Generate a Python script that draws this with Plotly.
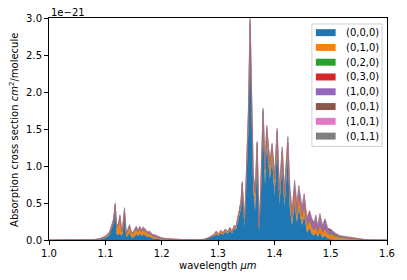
import plotly.graph_objects as go

# Wavelength grid (micrometres)
wavelength = [
    1.000, 1.060, 1.080, 1.090, 1.097, 1.103, 1.108, 1.112, 1.115, 1.1175,
    1.120, 1.123, 1.126, 1.129, 1.131, 1.134, 1.137, 1.140, 1.143, 1.146,
    1.149, 1.152, 1.155, 1.158, 1.161, 1.164, 1.167, 1.171, 1.175, 1.179,
    1.183, 1.188, 1.193, 1.200, 1.210, 1.225, 1.240, 1.260, 1.275, 1.283,
    1.288, 1.293, 1.297, 1.301, 1.305, 1.309, 1.313, 1.317, 1.321, 1.325,
    1.329, 1.332, 1.335, 1.338, 1.341, 1.343, 1.345, 1.347, 1.349, 1.351,
    1.354, 1.357, 1.3595, 1.3625, 1.366, 1.3695, 1.373, 1.376, 1.380, 1.3835,
    1.3865, 1.389, 1.392, 1.396, 1.4005, 1.405, 1.409, 1.414, 1.418, 1.424,
    1.4275, 1.4315, 1.436, 1.440, 1.4435, 1.449, 1.453, 1.458, 1.4625, 1.4667,
    1.4705, 1.4737, 1.477, 1.481, 1.4855, 1.490, 1.495, 1.500, 1.507, 1.516,
    1.525, 1.534, 1.543, 1.554, 1.563, 1.575, 1.600]

# Cross sections in units of 1e-21 cm^2/molecule
s000 = [
    0, 0, .002, .008, .02, .04, .08, .17, .24, .43,
    .08, .07, .09, .05, .1, .33, .04, .06, .1, .04,
    .03, .05, .08, .05, .09, .05, .08, .06, .04, .045,
    .025, .02, .012, .006, .004, .002, .001, .002, .005, .02,
    .035, .06, .07, .06, .09, .075, .11, .085, .13, .09,
    .16, .14, .25, .33, .44, .66, .33, .18, .5, 1.0,
    1.5, 2.62, 1.48, .7, .4, 1.12, .12, .58, 1.55, .74,
    1.32, 1.03, .82, 1.08, .6, 1.28, .48, 1.0, .45, 1.12,
    .44, .2, .5, .24, .43, .2, .33, .1, .16, .08,
    .06, .1, .04, .1, .03, .06, .02, .01, .005, .003,
    .002, .001, 0, 0, 0, 0, 0]
s010 = [
    0, 0, .001, .005, .01, .015, .02, .025, .03, .03,
    .08, .11, .2, .05, .06, .05, .035, .05, .06, .05,
    .045, .055, .055, .045, .05, .05, .05, .045, .035, .035,
    .025, .02, .013, .006, .004, .002, .001, .001, .002, .005,
    .008, .012, .04, .012, .03, .018, .03, .018, .03, .022,
    .03, .03, .035, .05, .08, .09, .14, .07, .07, .12,
    .18, .27, .2, .15, .22, .16, .045, .09, .17, .2,
    .17, .16, .17, .17, .2, .16, .14, .18, .15, .18,
    .17, .1, .15, .11, .14, .1, .13, .08, .1, .08,
    .06, .08, .05, .09, .06, .08, .05, .06, .04, .022,
    .018, .012, .005, .003, .001, 0, 0]
s020 = [
    0, 0, 0, .001, .002, .003, .004, .005, .006, .008,
    .01, .012, .015, .01, .012, .012, .008, .012, .015, .01,
    .008, .015, .02, .01, .012, .01, .012, .01, .008, .008,
    .006, .005, .004, .002, .001, 0, 0, 0, 0, .001,
    .001, .002, .002, .002, .002, .002, .003, .002, .003, .002,
    .003, .003, .004, .006, .008, .01, .008, .005, .008, .015,
    .02, .035, .022, .015, .015, .015, .005, .01, .02, .015,
    .018, .018, .018, .018, .018, .018, .015, .018, .015, .02,
    .02, .012, .02, .015, .02, .015, .018, .012, .014, .012,
    .012, .015, .01, .015, .012, .014, .012, .015, .014, .01,
    .008, .007, .004, .003, .001, 0, 0]
s030 = [
    0, 0, 0, .001, .001, .002, .002, .003, .003, .004,
    .004, .004, .005, .003, .004, .005, .003, .004, .005, .003,
    .003, .005, .006, .004, .006, .005, .006, .005, .004, .004,
    .003, .003, .002, .002, .001, .001, 0, 0, 0, 0,
    .001, .001, .001, .001, .001, .001, .001, .001, .001, .001,
    .001, .001, .002, .002, .003, .004, .003, .002, .003, .005,
    .008, .012, .008, .005, .005, .006, .002, .004, .006, .005,
    .006, .006, .006, .006, .006, .006, .005, .006, .006, .008,
    .007, .005, .008, .006, .008, .006, .007, .005, .006, .005,
    .005, .006, .004, .006, .004, .005, .004, .003, .002, .001,
    .001, .001, .001, 0, 0, 0, 0]
s100 = [
    0, 0, .001, .003, .004, .005, .007, .008, .01, .013,
    .012, .012, .015, .009, .012, .018, .008, .012, .015, .009,
    .008, .013, .015, .012, .016, .014, .016, .016, .012, .014,
    .011, .011, .01, .008, .006, .003, .002, .001, .002, .002,
    .003, .003, .004, .003, .004, .003, .004, .003, .004, .003,
    .004, .004, .005, .007, .01, .013, .01, .007, .01, .017,
    .025, .035, .025, .018, .018, .018, .005, .01, .022, .018,
    .022, .022, .022, .022, .022, .03, .025, .035, .037, .045,
    .05, .05, .08, .08, .09, .08, .09, .065, .075, .07,
    .065, .085, .06, .09, .057, .08, .045, .035, .02, .012,
    .01, .009, .005, .004, .001, 0, 0]
s001 = [
    0, 0, .001, .002, .003, .004, .005, .006, .007, .01,
    .009, .008, .01, .006, .008, .015, .004, .008, .01, .006,
    .004, .008, .01, .007, .011, .008, .011, .01, .008, .01,
    .007, .008, .007, .005, .003, .002, .001, .001, .001, .002,
    .002, .002, .003, .002, .003, .002, .002, .002, .002, .002,
    .002, .002, .003, .004, .006, .008, .006, .004, .006, .01,
    .012, .018, .012, .009, .009, .008, .003, .005, .01, .009,
    .01, .01, .01, .01, .01, .012, .012, .016, .017, .022,
    .027, .027, .045, .042, .045, .042, .048, .032, .04, .037,
    .032, .048, .03, .053, .031, .045, .025, .023, .016, .01,
    .009, .008, .004, .004, .002, 0, 0]
s101 = [
    0, 0, 0, 0, 0, .001, .001, .002, .002, .003,
    .003, .002, .003, .001, .002, .005, .001, .002, .003, .001,
    .001, .002, .002, .001, .003, .002, .003, .002, .002, .002,
    .002, .002, .001, .001, .001, 0, 0, 0, 0, 0,
    0, 0, 0, 0, 0, 0, 0, 0, 0, 0,
    0, 0, .001, .001, .002, .003, .002, .001, .002, .002,
    .003, .005, .002, .002, .002, .002, 0, .001, .001, .002,
    .002, .002, .002, .002, .002, .002, .002, .003, .003, .003,
    .004, .004, .004, .004, .004, .004, .004, .003, .003, .003,
    .003, .003, .003, .003, .003, .003, .002, .002, .002, .001,
    .001, .001, .001, .001, 0, 0, 0]
s011 = [
    0, 0, 0, 0, 0, 0, .001, .001, .002, .002,
    .002, .002, .002, .001, .002, .005, .001, .002, .002, .001,
    .001, .002, .002, .001, .002, .001, .002, .002, .001, .002,
    .001, .001, .001, 0, 0, 0, 0, 0, 0, 0,
    0, 0, 0, 0, 0, 0, 0, 0, 0, 0,
    0, 0, 0, 0, .001, .002, .001, .001, .001, .001,
    .002, .005, .001, .001, .001, .001, 0, 0, .001, .001,
    .002, .002, .002, .002, .002, .002, .001, .002, .002, .002,
    .002, .002, .003, .003, .003, .003, .003, .003, .002, .003,
    .003, .003, .003, .003, .003, .003, .002, .002, .001, .001,
    .001, .001, 0, 0, 0, 0, 0]

names = ["(0,0,0)", "(0,1,0)", "(0,2,0)", "(0,3,0)",
         "(1,0,0)", "(0,0,1)", "(1,0,1)", "(0,1,1)"]
series = [s000, s010, s020, s030, s100, s001, s101, s011]
colors = ["#1f77b4", "#ff7f0e", "#2ca02c", "#d62728",
          "#9467bd", "#8c564b", "#e377c2", "#7f7f7f"]

xticks = [1.0, 1.1, 1.2, 1.3, 1.4, 1.5, 1.6]
yticks = [0.0, 0.5, 1.0, 1.5, 2.0, 2.5, 3.0]

for s in series:
    assert len(s) == len(wavelength), len(s)

W, H = 407, 280
ML, MR, MT, MB = 49, 16, 17, 40
PW, PH = W - ML - MR, H - MT - MB


def px(x):
    return (x - ML) / PW


def py(y):
    return (H - MB - y) / PH


FONT = "DejaVu Sans, Verdana, sans-serif"

fig = go.Figure()
for name, s, c in zip(names, series, colors):
    fig.add_trace(go.Scatter(
        x=wavelength, y=s, name=name, mode="lines", stackgroup="one",
        line=dict(width=0.3, color=c), fillcolor=c, showlegend=False))

axis_common = dict(showline=True, linecolor="black", linewidth=1, mirror=True,
                   ticks="outside", ticklen=4, tickwidth=1, tickcolor="black",
                   showgrid=False, zeroline=False,
                   tickfont=dict(family=FONT, size=10, color="black"))
fig.update_xaxes(range=[1.0, 1.6], tickvals=xticks,
                 ticktext=[f"{v:.1f}" for v in xticks], **axis_common)
fig.update_yaxes(range=[0, 3.0], tickvals=yticks,
                 ticktext=[f"{v:.1f}" for v in yticks], **axis_common)

annotations = [
    dict(text="wavelength <i>μm</i>", x=0.5, y=py(266), xref="paper", yref="paper",
         xanchor="center", yanchor="middle", showarrow=False,
         font=dict(family=FONT, size=10, color="black")),
    dict(text="Absorption cross section <i>cm</i><sup>2</sup>/molecule",
         x=px(14), y=py(129), xref="paper", yref="paper", textangle=-90,
         xanchor="center", yanchor="middle", showarrow=False,
         font=dict(family=FONT, size=10, color="black")),
    dict(text="1e\u221221", x=0, y=py(11.5), xref="paper", yref="paper",
         xanchor="left", yanchor="middle", showarrow=False,
         font=dict(family=FONT, size=10, color="black")),
]

shapes = [dict(type="rect", xref="paper", yref="paper",
               x0=px(315), x1=px(386), y0=py(146), y1=py(23),
               line=dict(color="#d0d0d0", width=1),
               fillcolor="rgba(255,255,255,0.85)", layer="above")]
for i, (name, c) in enumerate(zip(names, colors)):
    yc = 31.7 + i * 14.85
    shapes.append(dict(type="rect", xref="paper", yref="paper",
                       x0=px(319), x1=px(339), y0=py(yc + 3.5), y1=py(yc - 3.5),
                       line=dict(width=0), fillcolor=c, layer="above"))
    annotations.append(dict(text=name, x=px(347), y=py(yc), xref="paper", yref="paper",
                            xanchor="left", yanchor="middle", showarrow=False,
                            font=dict(family=FONT, size=10, color="black")))

fig.update_layout(width=W, height=H,
                  margin=dict(l=ML, r=MR, t=MT, b=MB, pad=0),
                  paper_bgcolor="white", plot_bgcolor="white",
                  annotations=annotations, shapes=shapes,
                  font=dict(family=FONT, size=10, color="black"),
                  showlegend=False, hovermode=False)

fig.write_html("out.html",
               config={"displayModeBar": False, "staticPlot": True},
               post_script="document.body.style.margin='0';"
                           "document.body.style.padding='0';"
                           "document.body.style.overflow='hidden';")
